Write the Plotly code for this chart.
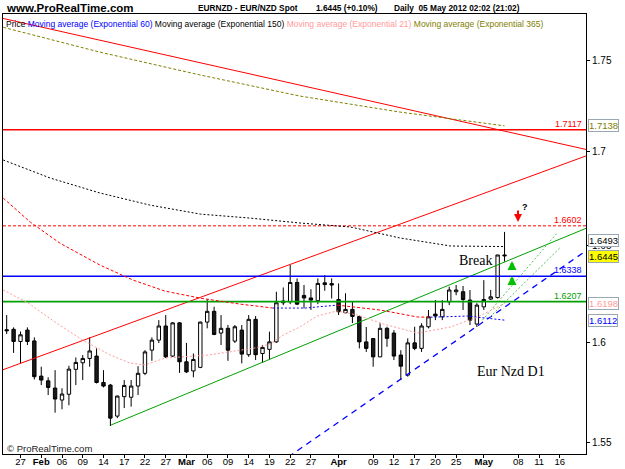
import math
import pandas as pd
import plotly.graph_objects as go

# ---------------- data ----------------
dates = pd.bdate_range("2012-01-25", "2012-05-04")
opens = [1.6063, 1.6065, 1.6003, 1.6061, 1.6006, 1.5828, 1.5804, 1.5768, 1.5708, 1.5737,
         1.5862, 1.5895, 1.5917, 1.5929, 1.5796, 1.5783, 1.5628, 1.5725, 1.5722, 1.5778,
         1.5842, 1.5959, 1.6010, 1.6082, 1.5929, 1.6098, 1.5900, 1.5854, 1.5872, 1.6102,
         1.6157, 1.6046, 1.6070, 1.6005, 1.6061, 1.5936, 1.6116, 1.5942, 1.5963, 1.6001,
         1.6201, 1.6206, 1.6306, 1.6239, 1.6226, 1.6212, 1.6304, 1.6300, 1.6218, 1.6150,
         1.6167, 1.6130, 1.6001, 1.6018, 1.5925, 1.6070, 1.6046, 1.5934, 1.5833, 1.5996,
         1.5968, 1.6078, 1.6143, 1.6129, 1.6206, 1.6258, 1.6258, 1.6215, 1.6092, 1.6180,
         1.6220, 1.6228, 1.6449]
highs = [1.6138, 1.6075, 1.6054, 1.6075, 1.6024, 1.5875, 1.5822, 1.5858, 1.5767, 1.5880,
         1.5922, 1.5934, 1.6024, 1.5968, 1.5858, 1.5788, 1.5730, 1.5808, 1.5808, 1.5878,
         1.5959, 1.6024, 1.6112, 1.6138, 1.6102, 1.6102, 1.5996, 1.5942, 1.6104, 1.6219,
         1.6181, 1.6138, 1.6087, 1.6087, 1.6087, 1.6138, 1.6133, 1.5985, 1.6053, 1.6258,
         1.6280, 1.6397, 1.6327, 1.6293, 1.6271, 1.6327, 1.6344, 1.6327, 1.6301, 1.6250,
         1.6205, 1.6135, 1.6077, 1.6019, 1.6096, 1.6078, 1.6061, 1.5959, 1.6019, 1.6078,
         1.6096, 1.6164, 1.6215, 1.6215, 1.6284, 1.6293, 1.6288, 1.6267, 1.6199, 1.6318,
         1.6267, 1.6449, 1.6570]
lows = [1.6041, 1.5945, 1.5892, 1.5985, 1.5811, 1.5783, 1.5733, 1.5645, 1.5662, 1.5682,
        1.5783, 1.5808, 1.5875, 1.5791, 1.5771, 1.5579, 1.5618, 1.5668, 1.5675, 1.5733,
        1.5833, 1.5905, 1.5995, 1.5919, 1.5924, 1.5844, 1.5844, 1.5822, 1.5868, 1.6070,
        1.6035, 1.5985, 1.5905, 1.5995, 1.5892, 1.5925, 1.5909, 1.5895, 1.5912, 1.5996,
        1.6189, 1.6194, 1.6189, 1.6172, 1.6164, 1.6194, 1.6263, 1.6223, 1.6138, 1.6147,
        1.6097, 1.5968, 1.5950, 1.5875, 1.5924, 1.5976, 1.5909, 1.5808, 1.5825, 1.5959,
        1.5950, 1.6070, 1.6112, 1.6112, 1.6189, 1.6240, 1.6164, 1.6087, 1.6077, 1.6164,
        1.6215, 1.6223, 1.6414]
closes = [1.6058, 1.6003, 1.6037, 1.6003, 1.5825, 1.5808, 1.5771, 1.5713, 1.5738, 1.5863,
          1.5897, 1.5917, 1.5955, 1.5796, 1.5778, 1.5618, 1.5728, 1.5781, 1.5778, 1.5842,
          1.5950, 1.6010, 1.6082, 1.5925, 1.6098, 1.5900, 1.5849, 1.5912, 1.6102, 1.6157,
          1.6039, 1.6070, 1.5959, 1.6078, 1.5939, 1.6116, 1.5936, 1.5973, 1.6001, 1.6201,
          1.6210, 1.6306, 1.6194, 1.6226, 1.6215, 1.6301, 1.6295, 1.6293, 1.6155, 1.6167,
          1.6131, 1.6001, 1.5968, 1.5925, 1.6070, 1.6019, 1.5929, 1.5878, 1.5996, 1.5968,
          1.6082, 1.6129, 1.6133, 1.6167, 1.6267, 1.6267, 1.6218, 1.6112, 1.6189, 1.6218,
          1.6232, 1.6449, 1.6445]

# moving averages (bar position, value)
ema21_pos = [-0.5, 3.1, 7.0, 11.0, 15.0, 17.8, 20.0, 22.9, 29.1, 35.9, 38.1, 40.0, 42.4, 44.9,
             47.8, 50.7, 54.5, 59.4, 64.2, 68.1, 72.0]
ema21_val = [1.6267, 1.6200, 1.6102, 1.6010, 1.5934, 1.5894, 1.5884, 1.5919, 1.5934, 1.5970,
             1.5990, 1.6036, 1.6077, 1.6133, 1.6159, 1.6138, 1.6092, 1.6046, 1.6077, 1.6128, 1.6198]
ema60_pos = [-0.5, 3.4, 7.7, 13.5, 18.3, 22.9, 28.0, 33.8, 38.5, 43.2, 47.8, 54.0, 59.4, 61.3, 66.6, 72.0]
ema60_val = [1.6749, 1.6622, 1.6511, 1.6396, 1.6318, 1.6261, 1.6225, 1.6194, 1.6174, 1.6174,
             1.6189, 1.6164, 1.6128, 1.6127, 1.6133, 1.6112]
# colour of each stretch of the 60 EMA: (first point, last point, colour)
ema60_runs = [(0, 8, "#ff0000"), (8, 10, "#0000ff"), (10, 13, "#ff0000"), (13, 15, "#0000ff")]
ema150_pos = [-0.5, 6.3, 13.5, 20.7, 28.0, 35.2, 42.4, 49.7, 56.9, 64.2, 72.0]
ema150_val = [1.6953, 1.6856, 1.6776, 1.6712, 1.6664, 1.6643, 1.6617, 1.6596, 1.6538, 1.6496, 1.6493]
ema365_pos = [-0.5, 13.5, 28.0, 42.4, 56.9, 72.0]
ema365_val = [1.7683, 1.7544, 1.7417, 1.7301, 1.7213, 1.7138]

# drawn objects (bar position, price)
trend_upper_red = [(-0.53, 1.7733), (83.78, 1.7010)]
trend_lower_red = [(-0.53, 1.5860), (83.78, 1.6975)]
trend_green = [(15.1, 1.5584), (83.78, 1.6589)]
trend_blue = [(38.1, 1.5365), (83.78, 1.6471)]
dotted_green_a = [(68.8, 1.6112), (79.6, 1.6564)]
dotted_green_b = [(69.9, 1.6128), (80.1, 1.6490)]
levels = [1.7117, 1.6602, 1.6338, 1.6207]
level_colors = ["#ff0000", "#ff0000", "#0000ff", "#00a000"]
level_dash = ["solid", "dot", "solid", "solid"]

calendar = pd.bdate_range("2012-01-25", "2012-05-18")
tick_dates = ["2012-01-27", "2012-02-01", "2012-02-06", "2012-02-09", "2012-02-14", "2012-02-17",
              "2012-02-22", "2012-02-27", "2012-03-01", "2012-03-06", "2012-03-09", "2012-03-14",
              "2012-03-19", "2012-03-22", "2012-03-27", "2012-04-02", "2012-04-09", "2012-04-12",
              "2012-04-17", "2012-04-20", "2012-04-25", "2012-05-01", "2012-05-08", "2012-05-11",
              "2012-05-16"]
tick_labels = ["27", "<b>Feb</b>", "06", "09", "14", "17", "22", "27", "<b>Mar</b>", "06", "09", "14",
               "19", "22", "27", "<b>Apr</b>", "09", "12", "17", "20", "25", "<b>May</b>", "08", "11", "16"]
ytick_vals = [1.55, 1.6, 1.65, 1.7, 1.75]
ytick_text = ["1.55", "1.6", "1.65", "1.7", "1.75"]

# ---------------- figure ----------------
W, H = 625, 469
L, R, T, B = 3, 39, 14, 15
PW, PH = W - L - R, H - T - B


def px(x):
    return (x - L) / PW


def py(y):
    return (H - B - y) / PH


xpos = [calendar.get_loc(d) for d in dates]
tickvals = [calendar.get_loc(pd.Timestamp(d)) for d in tick_dates]
FONT = "Liberation Sans, Arial, sans-serif"
SERIF = "Liberation Serif, Times New Roman, serif"

fig = go.Figure()


def line(xs, ys, color, width=1, dash="solid"):
    fig.add_trace(go.Scatter(x=xs, y=ys, mode="lines", hoverinfo="skip",
                             line=dict(color=color, width=width, dash=dash), showlegend=False))


# trend lines and levels behind candles
line([p[0] for p in trend_upper_red], [p[1] for p in trend_upper_red], "#ff0000")
line([p[0] for p in trend_lower_red], [p[1] for p in trend_lower_red], "#ff0000")
line([p[0] for p in trend_green], [p[1] for p in trend_green], "#00a000")
line([p[0] for p in trend_blue], [p[1] for p in trend_blue], "#0000ff", 1.3, "6px,5px")
line([p[0] for p in dotted_green_a], [p[1] for p in dotted_green_a], "#55c055", 1, "2px,2px")
line([p[0] for p in dotted_green_b], [p[1] for p in dotted_green_b], "#55c055", 1, "2px,2px")
xr = [-0.532, 83.78]
for lv, c, d in zip(levels, level_colors, level_dash):
    line(xr, [lv, lv], c, 1.6 if d == "solid" else 1, "solid" if d == "solid" else "3px,2px")

# moving averages
line(ema365_pos, ema365_val, "#808000", 1, "3px,2px")
line(ema150_pos, ema150_val, "#000000", 1, "2px,2px")
for a, b, col in ema60_runs:
    line(ema60_pos[a:b + 1], ema60_val[a:b + 1], col, 1, "3px,2px" if col == "#ff0000" else "2px,2px")
line(ema21_pos, ema21_val, "#ff9a9a", 1, "2px,2px")

fig.add_trace(go.Candlestick(
    x=xpos, open=opens, high=highs, low=lows, close=closes, showlegend=False,
    whiskerwidth=0,
    increasing=dict(line=dict(color="#000000", width=1), fillcolor="#ffffff"),
    decreasing=dict(line=dict(color="#000000", width=1), fillcolor="#1a1a1a")))

ann = []


def text(x, y, s, size=10, color="#000", xanchor="left", family=FONT, yanchor="middle"):
    ann.append(dict(x=px(x), y=py(y), xref="paper", yref="paper", text=s, showarrow=False,
                    xanchor=xanchor, yanchor=yanchor,
                    font=dict(size=size, color=color, family=family)))


text(4, 8, "<b>www.ProRealTime.com</b>", 11.5)
text(196, 8, "<b>EURNZD - EUR/NZD Spot</b>", 8.3)
text(314, 8, "<b>1.6445 (+0.10%)</b>", 8.3)
text(392, 8, "<b>Daily  05 May 2012 02:02 (21:02)</b>", 8.3)
text(4, 24, "Price <span style='color:#0000ff'>Moving average (Exponential 60)</span> "
            "Moving average (Exponential 150) "
            "<span style='color:#ff9a9a'>Moving average (Exponential 21)</span> "
            "<span style='color:#808000'>Moving average (Exponential 365)</span>", 8.5)
text(5, 448, "© ProRealTime.com", 9.5, "#222")
text(475, 260, "Break", 14, "#000", "center", SERIF)
text(511, 371, "Eur Nzd D1", 14, "#000", "center", SERIF)
text(525, 207, "<b>?</b>", 9, "#000", "center")

# level labels inside the plot, right side
ylog = lambda v: math.log10(v)
for lv, c in zip(levels, level_colors):
    ann.append(dict(x=1, y=ylog(lv), xref="paper", yref="y", text=f"{lv:.4f}", showarrow=False,
                    xanchor="right", yanchor="bottom", xshift=-2, yshift=-1,
                    font=dict(size=9, color=c, family=FONT)))

# value boxes on the axis (value, text colour, background, vertical nudge in px)
boxes = [(1.7138, "#808000", "#ffffff", 0), (1.6493, "#000000", "#ffffff", 6),
         (1.6445, "#000000", "#ffff00", -1), (1.6112, "#0000ff", "#ffffff", 0),
         (1.6198, "#ff9a9a", "#ffffff", 0)]
for v, fc, bg, sh in boxes:
    ann.append(dict(x=1, y=ylog(v), xref="paper", yref="y", text=f"{v:.4f}", showarrow=False,
                    xanchor="left", yanchor="middle", xshift=2, yshift=sh, bgcolor=bg,
                    bordercolor="#9aa8b4", borderwidth=1, borderpad=0,
                    font=dict(size=9.5, color=fc, family=FONT)))

# arrows
for (xa, ya, ay, col, w, sz) in [(512, 261, 10, "#00c000", 3, 0.6), (512, 276, 9, "#00c000", 3, 0.6),
                                 (518, 222, -13, "#ff0000", 2, 0.8)]:
    ann.append(dict(x=px(xa), y=py(ya), xref="paper", yref="paper", ax=0, ay=ay, showarrow=True,
                    arrowhead=2, arrowsize=sz, arrowwidth=w, arrowcolor=col, text=""))

fig.update_layout(
    width=W, height=H, margin=dict(l=L, r=R, t=T, b=B, autoexpand=False),
    paper_bgcolor="#ffffff", plot_bgcolor="#ffffff", showlegend=False,
    annotations=ann,
    xaxis=dict(range=xr, showgrid=False, zeroline=False, showline=True, mirror=True,
               linecolor="#000", linewidth=1, ticks="outside", ticklen=3, tickcolor="#000",
               tickvals=tickvals, ticktext=tick_labels, rangeslider=dict(visible=False),
               automargin=False, ticklabelstandoff=-4,
               tickfont=dict(size=9.5, color="#000", family=FONT)),
    yaxis=dict(type="log", side="right", range=[math.log10(1.5441), math.log10(1.7758)],
               showgrid=False, zeroline=False, showline=True, mirror=True, linecolor="#000",
               linewidth=1, ticks="outside", ticklen=3, tickcolor="#000",
               tickvals=ytick_vals, ticktext=ytick_text, automargin=False,
               tickfont=dict(size=10, color="#000", family=FONT)),
)

fig.write_html("out.html")
